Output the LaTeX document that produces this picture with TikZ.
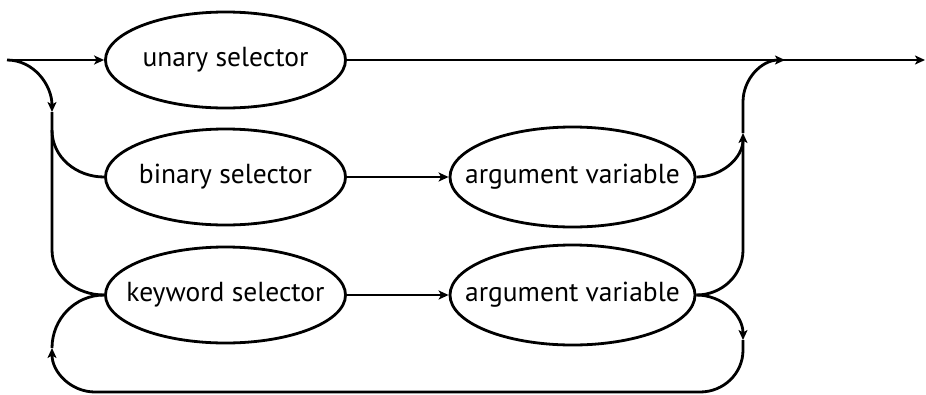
\documentclass[tikz,border=0pt]{standalone}
\usepackage{fontspec}
\setmainfont{PT Sans}
\usetikzlibrary{shapes.geometric,arrows.meta}
\newcommand{\zlab}[1]{\makebox[0pt]{#1}}
\begin{document}
\begin{tikzpicture}[x=1pt,y=-1pt,
  every path/.style={line width=2.8pt},
  box/.style={ellipse,draw,line width=2.8pt,inner sep=0pt,minimum width=240pt,minimum height=96pt,font=\fontsize{27.5}{32}\selectfont},
  abox/.style={box,minimum width=245pt,minimum height=100pt},
  tip/.style={-{Stealth[length=10pt,width=9pt,inset=2.5pt]}}]
\useasboundingbox (0,0) rectangle (926,394);
\node[box] (un) at (225.5,60) {\zlab{unary selector}};
\node[box] (bi) at (225.5,177) {\zlab{binary selector}};
\node[box] (kw) at (225.5,295) {\zlab{keyword selector}};
\node[abox] (a1) at (572.5,177) {\zlab{argument variable}};
\node[abox] (a2) at (572.5,295) {\zlab{argument variable}};
\coordinate (S) at (7,60);
\coordinate (E) at (925,60);
\coordinate (L1) at (52,112);
\coordinate (L2) at (52,348);
\coordinate (R1) at (743,133);
\coordinate (R2) at (743,340);
\coordinate (M) at (785,60);
% top route
\draw[tip] (S) -- (un.west);
\draw[tip] (un.east) -- (E);
% left branch
\draw[tip] (S) to[out=0,in=90] (L1);
\draw (L1) -- (52,130) to[out=-90,in=180] (bi.west);
\draw (52,130) -- (52,250) to[out=-90,in=180] (kw.west);
\draw[tip] (bi.east) -- (a1.west);
\draw[tip] (kw.east) -- (a2.west);
% right merge
\draw[tip] (a1.east) to[out=0,in=-90] (R1);
\draw (a2.east) to[out=0,in=-90] (743,250) -- (743,140);
\draw[tip] (R1) -- (743,102) to[out=90,in=180] (M);
% loop
\draw[tip] (a2.east) to[out=0,in=90] (R2);
\draw[tip] (R2) -- (743,350) to[out=-90,in=0] (700,392) -- (95,392) to[out=180,in=-90] (L2);
\draw (L2) to[out=90,in=180] (kw.west);
\end{tikzpicture}
\end{document}
